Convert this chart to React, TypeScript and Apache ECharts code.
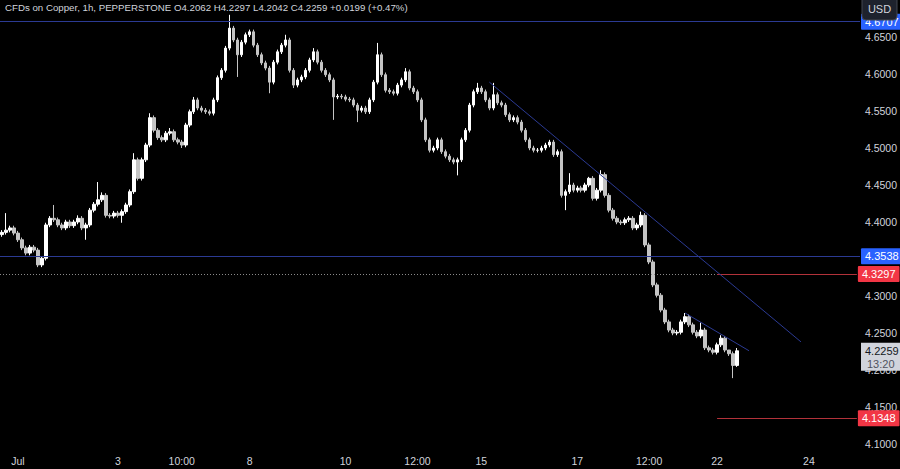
import React, { useEffect, useRef } from "react";
import * as echarts from "echarts";

const opens = [
  4.383, 4.386, 4.389, 4.392, 4.385, 4.376, 4.365, 4.358, 4.366, 4.362,
  4.342, 4.351, 4.396, 4.405, 4.403, 4.396, 4.392, 4.400, 4.395, 4.400,
  4.405, 4.392, 4.396, 4.416, 4.424, 4.430, 4.436, 4.409, 4.408, 4.412,
  4.409, 4.414, 4.423, 4.441, 4.484, 4.459, 4.484, 4.504, 4.541, 4.524,
  4.514, 4.511, 4.520, 4.522, 4.511, 4.508, 4.504, 4.531, 4.549, 4.565,
  4.554, 4.551, 4.549, 4.547, 4.565, 4.595, 4.605, 4.635, 4.662, 4.646,
  4.626, 4.643, 4.653, 4.657, 4.639, 4.626, 4.615, 4.608, 4.589, 4.616,
  4.630, 4.639, 4.646, 4.605, 4.585, 4.592, 4.596, 4.605, 4.619, 4.630,
  4.616, 4.605, 4.599, 4.592, 4.569, 4.570, 4.569, 4.566, 4.565, 4.558,
  4.551, 4.554, 4.549, 4.565, 4.589, 4.626, 4.599, 4.578, 4.576, 4.574,
  4.585, 4.592, 4.603, 4.581, 4.576, 4.565, 4.538, 4.511, 4.497, 4.500,
  4.511, 4.495, 4.489, 4.484, 4.481, 4.484, 4.511, 4.524, 4.558, 4.576,
  4.581, 4.576, 4.565, 4.554, 4.572, 4.561, 4.558, 4.545, 4.538, 4.541,
  4.535, 4.524, 4.511, 4.500, 4.497, 4.497, 4.500, 4.504, 4.508, 4.491,
  4.495, 4.436, 4.441, 4.450, 4.443, 4.446, 4.443, 4.450, 4.459, 4.432,
  4.443, 4.464, 4.436, 4.416, 4.405, 4.400, 4.399, 4.403, 4.405, 4.392,
  4.396, 4.409, 4.369, 4.346, 4.315, 4.301, 4.281, 4.265, 4.254, 4.250,
  4.251, 4.265, 4.272, 4.261, 4.251, 4.246, 4.254, 4.230, 4.227, 4.224,
  4.234, 4.243, 4.227, 4.222, 4.2062,
];
const closes = [
  4.386, 4.389, 4.392, 4.385, 4.376, 4.365, 4.358, 4.366, 4.362, 4.342,
  4.351, 4.396, 4.405, 4.403, 4.396, 4.392, 4.400, 4.395, 4.400, 4.405,
  4.392, 4.396, 4.416, 4.424, 4.430, 4.436, 4.409, 4.408, 4.412, 4.409,
  4.414, 4.423, 4.441, 4.484, 4.459, 4.484, 4.504, 4.541, 4.524, 4.514,
  4.511, 4.520, 4.522, 4.511, 4.508, 4.504, 4.531, 4.549, 4.565, 4.554,
  4.551, 4.549, 4.547, 4.565, 4.595, 4.605, 4.635, 4.662, 4.646, 4.626,
  4.643, 4.653, 4.657, 4.639, 4.626, 4.615, 4.608, 4.589, 4.616, 4.630,
  4.639, 4.646, 4.605, 4.585, 4.592, 4.596, 4.605, 4.619, 4.630, 4.616,
  4.605, 4.599, 4.592, 4.569, 4.570, 4.569, 4.566, 4.565, 4.558, 4.551,
  4.554, 4.549, 4.565, 4.589, 4.626, 4.599, 4.578, 4.576, 4.574, 4.585,
  4.592, 4.603, 4.581, 4.576, 4.565, 4.538, 4.511, 4.497, 4.500, 4.511,
  4.495, 4.489, 4.484, 4.481, 4.484, 4.511, 4.524, 4.558, 4.576, 4.581,
  4.576, 4.565, 4.554, 4.572, 4.561, 4.558, 4.545, 4.538, 4.541, 4.535,
  4.524, 4.511, 4.500, 4.497, 4.497, 4.500, 4.504, 4.508, 4.491, 4.495,
  4.436, 4.441, 4.450, 4.443, 4.446, 4.443, 4.450, 4.459, 4.432, 4.443,
  4.464, 4.436, 4.416, 4.405, 4.400, 4.399, 4.403, 4.405, 4.392, 4.396,
  4.409, 4.369, 4.346, 4.315, 4.301, 4.281, 4.265, 4.254, 4.250, 4.251,
  4.265, 4.272, 4.261, 4.251, 4.246, 4.254, 4.230, 4.227, 4.224, 4.234,
  4.243, 4.227, 4.222, 4.2062, 4.2259,
];
const highs = [
  4.389, 4.412, 4.395, 4.395, 4.388, 4.379, 4.368, 4.369, 4.369, 4.365,
  4.354, 4.399, 4.408, 4.423, 4.406, 4.399, 4.403, 4.403, 4.403, 4.409,
  4.408, 4.399, 4.419, 4.427, 4.454, 4.440, 4.439, 4.412, 4.415, 4.415,
  4.417, 4.426, 4.444, 4.493, 4.487, 4.487, 4.507, 4.547, 4.544, 4.527,
  4.517, 4.523, 4.527, 4.525, 4.514, 4.511, 4.534, 4.552, 4.569, 4.568,
  4.557, 4.554, 4.552, 4.568, 4.598, 4.608, 4.638, 4.680, 4.665, 4.649,
  4.646, 4.656, 4.660, 4.660, 4.642, 4.629, 4.618, 4.611, 4.619, 4.633,
  4.642, 4.653, 4.649, 4.608, 4.595, 4.599, 4.608, 4.622, 4.635, 4.633,
  4.619, 4.608, 4.602, 4.595, 4.573, 4.573, 4.572, 4.569, 4.568, 4.561,
  4.557, 4.557, 4.568, 4.592, 4.642, 4.629, 4.602, 4.581, 4.579, 4.588,
  4.595, 4.608, 4.606, 4.584, 4.579, 4.568, 4.541, 4.514, 4.503, 4.514,
  4.514, 4.498, 4.492, 4.487, 4.487, 4.514, 4.527, 4.561, 4.579, 4.588,
  4.584, 4.579, 4.568, 4.588, 4.575, 4.564, 4.561, 4.548, 4.544, 4.544,
  4.538, 4.527, 4.514, 4.503, 4.500, 4.503, 4.507, 4.511, 4.511, 4.498,
  4.498, 4.444, 4.466, 4.453, 4.449, 4.449, 4.453, 4.461, 4.462, 4.446,
  4.470, 4.467, 4.439, 4.419, 4.408, 4.403, 4.406, 4.408, 4.408, 4.399,
  4.414, 4.412, 4.372, 4.349, 4.318, 4.304, 4.284, 4.268, 4.257, 4.254,
  4.268, 4.277, 4.275, 4.264, 4.254, 4.264, 4.257, 4.233, 4.230, 4.237,
  4.247, 4.246, 4.225, 4.225, 4.2297,
];
const lows = [
  4.380, 4.383, 4.386, 4.382, 4.373, 4.362, 4.355, 4.355, 4.359, 4.339,
  4.339, 4.348, 4.393, 4.400, 4.393, 4.389, 4.389, 4.392, 4.392, 4.397,
  4.389, 4.376, 4.393, 4.413, 4.421, 4.427, 4.406, 4.405, 4.405, 4.406,
  4.399, 4.411, 4.420, 4.438, 4.456, 4.456, 4.481, 4.501, 4.521, 4.511,
  4.508, 4.508, 4.517, 4.508, 4.505, 4.500, 4.501, 4.528, 4.546, 4.551,
  4.548, 4.546, 4.544, 4.544, 4.562, 4.592, 4.602, 4.632, 4.643, 4.596,
  4.623, 4.640, 4.650, 4.636, 4.623, 4.612, 4.605, 4.574, 4.586, 4.613,
  4.627, 4.636, 4.602, 4.581, 4.582, 4.589, 4.593, 4.602, 4.616, 4.613,
  4.602, 4.596, 4.589, 4.538, 4.566, 4.566, 4.563, 4.562, 4.555, 4.535,
  4.548, 4.546, 4.546, 4.562, 4.586, 4.596, 4.575, 4.573, 4.571, 4.571,
  4.582, 4.589, 4.578, 4.573, 4.562, 4.535, 4.508, 4.494, 4.494, 4.497,
  4.492, 4.486, 4.481, 4.478, 4.463, 4.481, 4.508, 4.521, 4.555, 4.573,
  4.573, 4.562, 4.551, 4.551, 4.558, 4.555, 4.542, 4.535, 4.535, 4.532,
  4.521, 4.508, 4.497, 4.494, 4.494, 4.494, 4.497, 4.501, 4.488, 4.488,
  4.433, 4.416, 4.438, 4.440, 4.440, 4.440, 4.440, 4.447, 4.429, 4.429,
  4.440, 4.433, 4.413, 4.402, 4.397, 4.396, 4.396, 4.400, 4.389, 4.389,
  4.393, 4.366, 4.343, 4.312, 4.298, 4.278, 4.262, 4.251, 4.247, 4.247,
  4.248, 4.262, 4.258, 4.248, 4.243, 4.243, 4.227, 4.224, 4.221, 4.221,
  4.231, 4.224, 4.219, 4.189, 4.2042,
];

// time axis: number of slots (bars + empty space on the right) and tick labels
const slotCount = 215;
const tickBars = [4, 29, 45, 62, 86, 104, 120, 144, 162, 179, 202];
const tickLabels = ["Jul", "3", "10:00", "8", "10", "12:00", "15", "17", "12:00", "22", "24"];
// price-scale ticks that sit fully under a level tag in the reference
const coveredTicks = [4.35];

// price levels / drawings
const resistanceTop = 4.6707;
const supportLevel = 4.3538;
const prevCloseLevel = 4.3338;
const redLevels = [4.3297, 4.1348];
const redLevelStart = 179;
const trendLine1 = [[122, 4.589], [200, 4.238]];
const trendLine2 = [[171, 4.277], [187, 4.226]];
const lastPrice = 4.2259;
const countdown = "13:20";

const titleText =
  "CFDs on Copper, 1h, PEPPERSTONE O4.2062 H4.2297 L4.2042 C4.2259 +0.0199 (+0.47%)";

export default function App() {
  const ref = useRef<HTMLDivElement>(null);

  useEffect(() => {
    document.body.style.margin = "0";
    document.body.style.background = "#000";
    const chart = echarts.init(ref.current!, null, { renderer: "svg" });

    const categories = Array.from({ length: slotCount }, (_, i) => "b" + i);
    const candleData = opens.map((o, i) => [o, closes[i], lows[i], highs[i]]);
    const labelOf = (i: number) => {
      const k = tickBars.indexOf(i);
      return k >= 0 ? tickLabels[k] : "";
    };

    const blue = "#2b3a93";
    const lblFont = { fontSize: 11, fontFamily: "Liberation Sans", lineHeight: 13 };
    const boxLabel = (bg: string, text: string) => ({
      show: true,
      position: "end",
      distance: 1,
      formatter: text,
      color: "#ffffff",
      backgroundColor: bg,
      padding: [2, 4, 1, 4],
      borderRadius: 1,
      ...lblFont,
    });
    const blueStyle = { color: blue, width: 1, type: "solid", opacity: 1 };

    // horizontal levels drawn as two-point lines across the plot
    const lastSlot = slotCount - 1;
    const levelData: any[] = [resistanceTop, supportLevel].map((lv) => [
      {
        coord: [0, lv],
        x: 0,
        lineStyle: blueStyle,
        label: boxLabel("#2962ff", lv.toFixed(4)),
      },
      { coord: [lastSlot, lv], x: 860 },
    ]);
    const dottedData: any[] = [
      {
        yAxis: prevCloseLevel,
        lineStyle: { color: "#8a8a8a", width: 1, type: [1, 2] },
        label: { show: false },
      },
    ];
    const drawData: any[] = [
      ...redLevels.map((lv) => [
        {
          coord: [redLevelStart, lv],
          lineStyle: { color: "#b2323a", width: 1, type: "solid" },
          label: boxLabel("#f23645", lv.toFixed(4)),
        },
        { coord: [lastSlot, lv] },
      ]),
      [
        { coord: trendLine1[0], lineStyle: blueStyle, label: { show: false } },
        { coord: trendLine1[1] },
      ],
      [
        { coord: trendLine2[0], lineStyle: blueStyle, label: { show: false } },
        { coord: trendLine2[1] },
      ],
    ];

    const fontCss = "11px 'Liberation Sans'";
    chart.setOption({
      animation: false,
      backgroundColor: "#000000",
      title: {
        text: titleText,
        left: 5,
        top: 2,
        padding: 0,
        textStyle: { color: "#d1d4dc", fontSize: 9.7, fontWeight: "normal", fontFamily: "Liberation Sans" },
      },
      grid: { left: 0, right: 40, top: 0, bottom: 25 },
      xAxis: {
        type: "category",
        data: categories,
        boundaryGap: true,
        axisLine: { show: false },
        axisTick: { show: false },
        splitLine: { show: false },
        axisLabel: {
          interval: (i: number) => tickBars.indexOf(i) >= 0,
          formatter: (_v: string, i: number) => labelOf(i),
          color: "#d1d4dc",
          fontSize: 10.5,
          fontFamily: "Liberation Sans",
          margin: 11,
        },
      },
      yAxis: {
        type: "value",
        position: "right",
        min: 4.1,
        max: 4.7,
        interval: 0.05,
        axisLine: { show: false },
        axisTick: { show: false },
        splitLine: { show: false },
        axisLabel: {
          showMaxLabel: false,
          formatter: (v: number) =>
            coveredTicks.some((t) => Math.abs(t - v) < 1e-6) ? "" : v.toFixed(4),
          color: "#d1d4dc",
          fontSize: 10.5,
          fontFamily: "Liberation Sans",
          margin: 6,
        },
      },
      series: [
        {
          type: "line",
          name: "prevclose",
          data: [],
          markLine: {
            silent: true,
            symbol: ["none", "none"],
            animation: false,
            data: dottedData,
          },
        },
        {
          type: "candlestick",
          data: candleData,
          barWidth: 3,
          itemStyle: {
            color: "#ffffff",
            color0: "#c4c4c4",
            borderColor: "#ffffff",
            borderColor0: "#c4c4c4",
            borderWidth: 1,
          },
          markLine: {
            silent: true,
            symbol: ["none", "none"],
            animation: false,
            lineStyle: blueStyle,
            data: [...levelData, ...drawData],
          },
        },
      ],
    });

    // current-price tag on the price scale, placed through the y axis scale
    const py = chart.convertToPixel({ yAxisIndex: 0 }, lastPrice) as number;
    chart.setOption({
      graphic: [
        {
          type: "rect",
          z: 100,
          shape: { x: 861, y: py - 8, width: 39, height: 28 },
          style: { fill: "#d1d4dc" },
        },
        {
          type: "text",
          z: 101,
          x: 865,
          y: py,
          style: { text: lastPrice.toFixed(4), fill: "#131722", font: fontCss, textVerticalAlign: "middle" },
        },
        {
          type: "text",
          z: 101,
          x: 867,
          y: py + 13,
          style: { text: countdown, fill: "#50535e", font: fontCss, textVerticalAlign: "middle" },
        },
        {
          type: "rect",
          z: 100,
          shape: { x: 862, y: -4, width: 35, height: 24, r: 4 },
          style: { fill: "#1e222d", stroke: "#434651", lineWidth: 1 },
        },
        {
          type: "text",
          z: 101,
          x: 879.5,
          y: 9,
          style: {
            text: "USD",
            fill: "#d1d4dc",
            font: fontCss,
            textAlign: "center",
            textVerticalAlign: "middle",
          },
        },
      ],
    });

    return () => chart.dispose();
  }, []);

  return <div ref={ref} style={{ width: 900, height: 469, background: "#000" }} />;
}
